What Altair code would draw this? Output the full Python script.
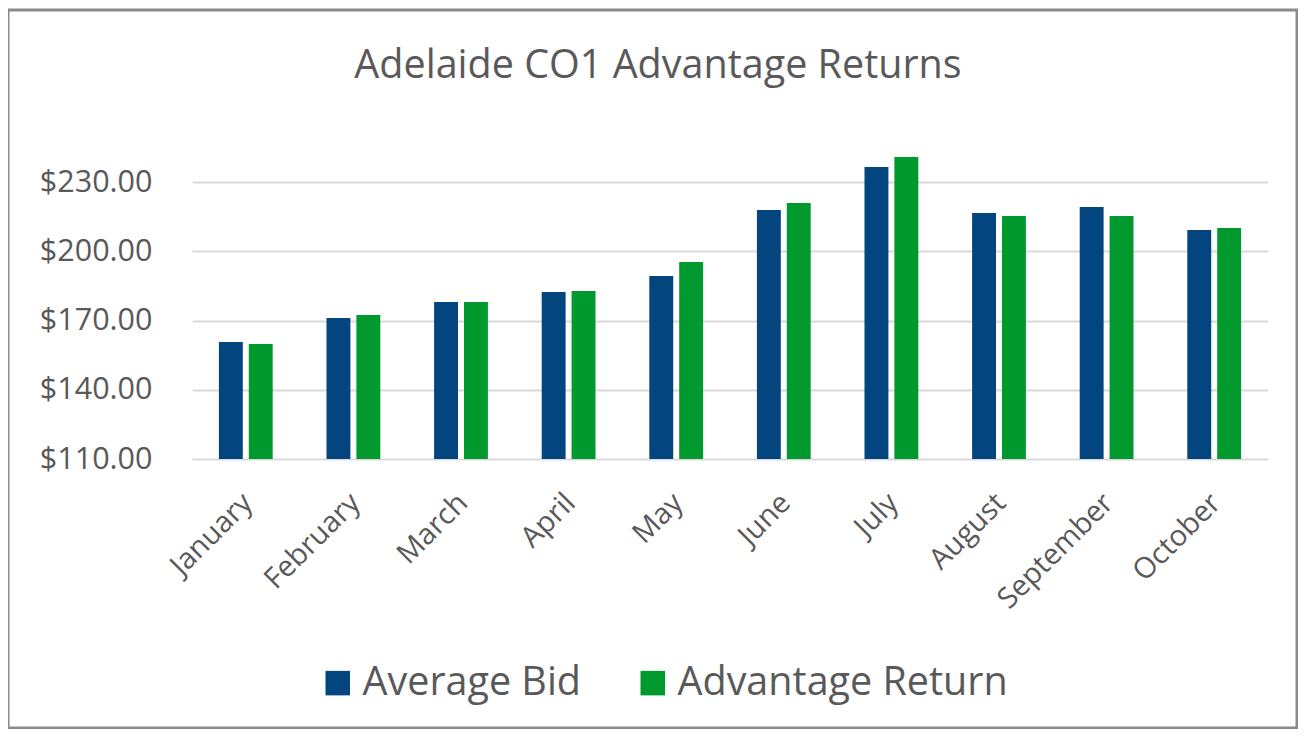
import altair as alt
import pandas as pd

title_text = ["Adelaide CO1 Advantage Returns"]
months = ["January", "February", "March", "April", "May", "June",
          "July", "August", "September", "October"]
average_bid = [160.7, 171.1, 178.0, 182.4, 189.3, 217.9, 236.6, 216.6, 219.2, 209.3]
advantage_return = [159.8, 172.4, 178.0, 182.8, 195.4, 221.0, 240.9, 215.3, 215.3, 210.1]
series_names = ["Average Bid", "Advantage Return"]
series_colors = ["#03457F", "#00992E"]
y_ticks = [110, 140, 170, 200, 230]

rows = []
for m, a, r in zip(months, average_bid, advantage_return):
    rows.append({"month": m, "series": series_names[0], "value": a})
    rows.append({"month": m, "series": series_names[1], "value": r})
df = pd.DataFrame(rows)

FONT = "Open Sans"
GREY = "#595959"

bars = alt.Chart(df).mark_bar(clip=True).encode(
    x=alt.X("month:N", sort=months, title=None,
            scale=alt.Scale(paddingInner=0.5, paddingOuter=0.25),
            axis=alt.Axis(labelAngle=-45, labelFontSize=29, labelColor=GREY,
                          labelFont=FONT, ticks=False, domain=False,
                          labelPadding=29, labelOffset=-8,
                          labelAlign="right", labelBaseline="top")),
    xOffset=alt.XOffset("series:N", sort=series_names,
                        scale=alt.Scale(paddingInner=0.2)),
    y=alt.Y("value:Q", title=None,
            scale=alt.Scale(domain=[110, 250], nice=False, zero=False),
            axis=alt.Axis(values=y_ticks, format="$,.2f", labelFontSize=30.5,
                          labelColor=GREY, labelFont=FONT, ticks=False,
                          domain=False, labelPadding=40, gridColor="#D9D9D9",
                          gridWidth=2)),
    color=alt.Color("series:N", sort=series_names,
                    scale=alt.Scale(domain=series_names, range=series_colors),
                    legend=alt.Legend(title=None, orient="none", direction="horizontal",
                                      legendX=126, legendY=527,
                                      symbolType="square", symbolSize=600,
                                      symbolStrokeWidth=0,
                                      labelFontSize=39.5, labelColor=GREY,
                                      labelFont=FONT, labelOffset=5,
                                      columnPadding=51, labelLimit=600)),
)

title_df = pd.DataFrame({"t": title_text})
title = alt.Chart(title_df).mark_text(
    font=FONT, fontSize=39.5, color=GREY, align="center", baseline="alphabetic",
    clip=False
).encode(text="t:N", x=alt.value(466), y=alt.value(-58))

frame_df = pd.DataFrame({"k": [0]})
frame = alt.Chart(frame_df).mark_rect(
    fill=None, stroke="#8A8A8A", strokeWidth=3, clip=False
).encode(
    x=alt.value(-184), x2=alt.value(1105),
    y=alt.value(-126), y2=alt.value(592),
)

chart = alt.layer(bars, title, frame).properties(
    width=1076, height=323,
    autosize=alt.AutoSizeParams(type="none"),
    padding={"left": 184, "top": 128, "right": 30, "bottom": 270},
).configure_view(stroke=None)

chart.save("out.html", embed_options={"renderer": "svg", "actions": False})
